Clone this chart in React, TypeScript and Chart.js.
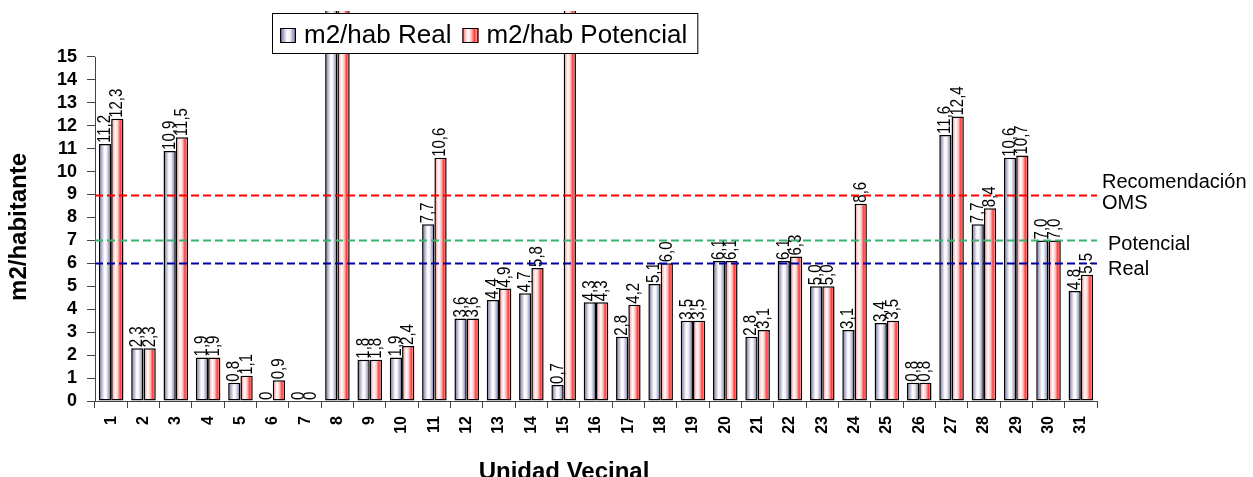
import { useEffect, useRef } from 'react';
import { Chart, registerables } from 'chart.js';

Chart.register(...registerables);

// ---------------- data ----------------
const categories = ['1', '2', '3', '4', '5', '6', '7', '8', '9', '10', '11', '12', '13', '14', '15', '16', '17', '18', '19', '20', '21', '22', '23', '24', '25', '26', '27', '28', '29', '30', '31'];
const seriesNames = ['m2/hab Real', 'm2/hab Potencial'];
// UV 8 (both) and UV 15 (Potencial) run off the top of the axis: estimated at 20
const realValues = [11.2, 2.3, 10.9, 1.9, 0.8, 0, 0, 20, 1.8, 1.9, 7.7, 3.6, 4.4, 4.7, 0.7, 4.3, 2.8, 5.1, 3.5, 6.1, 2.8, 6.1, 5.0, 3.1, 3.4, 0.8, 11.6, 7.7, 10.6, 7.0, 4.8];
const potentialValues = [12.3, 2.3, 11.5, 1.9, 1.1, 0.9, 0, 20, 1.8, 2.4, 10.6, 3.6, 4.9, 5.8, 20, 4.3, 4.2, 6.0, 3.5, 6.1, 3.1, 6.3, 5.0, 8.6, 3.5, 0.8, 12.4, 8.4, 10.7, 7.0, 5.5];
const yTickValues = [0, 1, 2, 3, 4, 5, 6, 7, 8, 9, 10, 11, 12, 13, 14, 15];
const refValues = [9, 7, 6];
const refLabels = [['Recomendación', 'OMS'], ['Potencial'], ['Real']];
const yAxisTitle = 'm2/habitante';
const xAxisTitle = 'Unidad Vecinal';

// ---------------- styles ----------------
const FONT = '"Liberation Sans", Arial, Helvetica, sans-serif';
const AXIS_COLOR = '#444444';
const CAT_PCT = 0.76;
const Y_MAX = 17;
const Y_AXIS_TOP = 15;
const realStops: [number, string][] = [
  [0, '#3a3a72'], [0.18, '#a4a4c4'], [0.45, '#ffffff'], [0.62, '#f2f2f8'], [0.85, '#9c9cbe'], [1, '#44447c'],
];
const potStops: [number, string][] = [
  [0, '#d83030'], [0.15, '#ffb4b4'], [0.35, '#ffffff'], [0.55, '#ffc4c4'], [0.75, '#ff3a3a'], [0.9, '#ff9a9a'], [1, '#b00000'],
];
const refStyles = [
  { color: '#ff0000', dx: 5, dy: -7.5 },
  { color: '#3cb371', dx: 11, dy: 9.5 },
  { color: '#0000a0', dx: 11, dy: 11.5 },
];

function makeGradient(ctx: CanvasRenderingContext2D, x0: number, x1: number, stops: [number, string][]) {
  const g = ctx.createLinearGradient(x0, 0, x1, 0);
  stops.forEach(([o, c]) => g.addColorStop(o, c));
  return g;
}

const barFill = (stops: [number, string][], solid: string) => (c: any) => {
  const chart = c.chart;
  if (c.type !== 'data' || !chart.chartArea || !chart.scales.x) return solid;
  const xs = chart.scales.x;
  const center = xs.getPixelForValue(c.dataIndex);
  const half = ((xs.right - xs.left) / categories.length) * CAT_PCT / 2;
  const x0 = c.datasetIndex === 0 ? center - half : center;
  return makeGradient(chart.ctx, x0, x0 + half, stops);
};

const fmt = (v: number) => (v === 0 ? '0' : v.toFixed(1).replace('.', ','));

const overlayPlugin = {
  id: 'overlay',
  afterDatasetsDraw(chart: any) {
    const { ctx, chartArea, scales } = chart;
    const y = scales.y;
    ctx.save();
    // y axis line (0..15)
    ctx.strokeStyle = AXIS_COLOR;
    ctx.lineWidth = 1;
    ctx.beginPath();
    ctx.moveTo(chartArea.left + 0.5, y.getPixelForValue(0));
    ctx.lineTo(chartArea.left + 0.5, y.getPixelForValue(Y_AXIS_TOP));
    ctx.stroke();

    // data labels
    ctx.font = `15px ${FONT}`;
    ctx.fillStyle = '#000';
    ctx.textAlign = 'left';
    ctx.textBaseline = 'middle';
    chart.data.datasets.forEach((ds: any, i: number) => {
      const meta = chart.getDatasetMeta(i);
      meta.data.forEach((el: any, j: number) => {
        const v = ds.data[j];
        const top = Math.min(el.y, el.base);
        if (top < chartArea.top + 1) return;
        ctx.save();
        ctx.translate(el.x, top - 1);
        ctx.scale(1.2, 1);
        ctx.rotate(-Math.PI / 2);
        ctx.fillText(fmt(v), 0, 0);
        ctx.restore();
      });
    });

    // reference lines
    refValues.forEach((v, i) => {
      const st = refStyles[i];
      const py = Math.round(y.getPixelForValue(v)) + 0.5;
      ctx.strokeStyle = st.color;
      ctx.lineWidth = 2;
      ctx.setLineDash([8, 4]);
      ctx.beginPath();
      ctx.moveTo(chartArea.left, py);
      ctx.lineTo(chartArea.right, py);
      ctx.stroke();
      ctx.setLineDash([]);
      ctx.fillStyle = '#000';
      ctx.font = `20px ${FONT}`;
      ctx.textAlign = 'left';
      ctx.textBaseline = 'alphabetic';
      refLabels[i].forEach((t, k) => {
        ctx.fillText(t, chartArea.right + st.dx, py + st.dy + k * 21);
      });
    });
    ctx.restore();
  },
  afterDraw(chart: any) {
    const { ctx, chartArea, scales } = chart;
    const y = scales.y;
    ctx.save();
    // axis titles
    ctx.fillStyle = '#000';
    ctx.font = `bold 24px ${FONT}`;
    ctx.textAlign = 'center';
    ctx.textBaseline = 'alphabetic';
    ctx.fillText(xAxisTitle, (chartArea.left + chartArea.right) / 2 - 32, 479);
    ctx.save();
    ctx.translate(26, (y.getPixelForValue(0) + y.getPixelForValue(Y_AXIS_TOP)) / 2 - 2);
    ctx.rotate(-Math.PI / 2);
    ctx.fillText(yAxisTitle, 0, 0);
    ctx.restore();

    // legend
    ctx.font = `26px ${FONT}`;
    const left = 272;
    const top = 13;
    const h = 40;
    const mw = 16, mh = 15;
    let x = left + 8;
    const items = seriesNames.map((n, i) => ({ n, stops: i === 0 ? realStops : potStops }));
    const widths = items.map((it) => ctx.measureText(it.n).width);
    const totalW = 8 + items.reduce((s, it, i) => s + mw + 8 + widths[i] + (i < items.length - 1 ? 11 : 10), 0);
    ctx.fillStyle = '#fff';
    ctx.fillRect(left, top, totalW, h);
    ctx.strokeStyle = '#000';
    ctx.lineWidth = 1;
    ctx.strokeRect(left + 0.5, top + 0.5, totalW, h);
    items.forEach((it, i) => {
      ctx.fillStyle = makeGradient(ctx, x, x + mw, it.stops);
      ctx.fillRect(x, top + 15, mw, mh);
      ctx.strokeStyle = '#000';
      ctx.strokeRect(x + 0.5, top + 15.5, mw - 1, mh - 1);
      x += mw + 8;
      ctx.fillStyle = '#000';
      ctx.textAlign = 'left';
      ctx.fillText(it.n, x, top + 30);
      x += widths[i] + 11;
    });
    ctx.restore();
  },
};

export default function App() {
  const ref = useRef<HTMLCanvasElement | null>(null);
  useEffect(() => {
    if (!ref.current) return;
    const chart = new Chart(ref.current, {
      type: 'bar',
      data: {
        labels: categories,
        datasets: [
          {
            label: seriesNames[0],
            data: realValues,
            backgroundColor: barFill(realStops, '#9c9cbe'),
            borderColor: '#000',
            borderWidth: 1.5,
            borderSkipped: false,
            categoryPercentage: CAT_PCT,
            barPercentage: 1,
          },
          {
            label: seriesNames[1],
            data: potentialValues,
            backgroundColor: barFill(potStops, '#ff9a9a'),
            borderColor: '#000',
            borderWidth: 1.5,
            borderSkipped: false,
            categoryPercentage: CAT_PCT,
            barPercentage: 1,
          },
        ],
      },
      options: {
        responsive: false,
        maintainAspectRatio: false,
        animation: false,
        devicePixelRatio: 1,
        events: [],
        layout: { padding: { left: 0, right: 156, top: 11, bottom: 0 } },
        plugins: { legend: { display: false }, tooltip: { enabled: false } },
        scales: {
          x: {
            type: 'category',
            grid: { display: true, drawOnChartArea: false, drawTicks: true, tickLength: 7, offset: true, color: AXIS_COLOR },
            border: { display: true, color: AXIS_COLOR, width: 1 },
            ticks: {
              autoSkip: false,
              minRotation: 90,
              maxRotation: 90,
              padding: 8,
              color: '#000',
              font: { family: FONT, size: 16, weight: 'bold' },
            },
            afterFit: (s: any) => { s.height = 83; s.paddingLeft = 0; s.paddingRight = 0; },
          },
          y: {
            type: 'linear',
            min: 0,
            max: Y_MAX,
            afterBuildTicks: (s: any) => { s.ticks = yTickValues.map((v) => ({ value: v })); },
            grid: { display: true, drawOnChartArea: false, drawTicks: true, tickLength: 8, color: AXIS_COLOR },
            border: { display: false },
            ticks: { padding: 10, color: '#000', font: { family: FONT, size: 18, weight: 'bold' } },
            afterFit: (s: any) => { s.width = 95; s.paddingTop = 0; s.paddingBottom = 0; },
          },
        },
      } as any,
      plugins: [overlayPlugin],
    });
    return () => chart.destroy();
  }, []);
  return (
    <div style={{ position: 'fixed', left: 0, top: 0, width: 1253, height: 484, background: '#fff' }}>
      <canvas ref={ref} width={1253} height={484} style={{ display: 'block' }} />
    </div>
  );
}
